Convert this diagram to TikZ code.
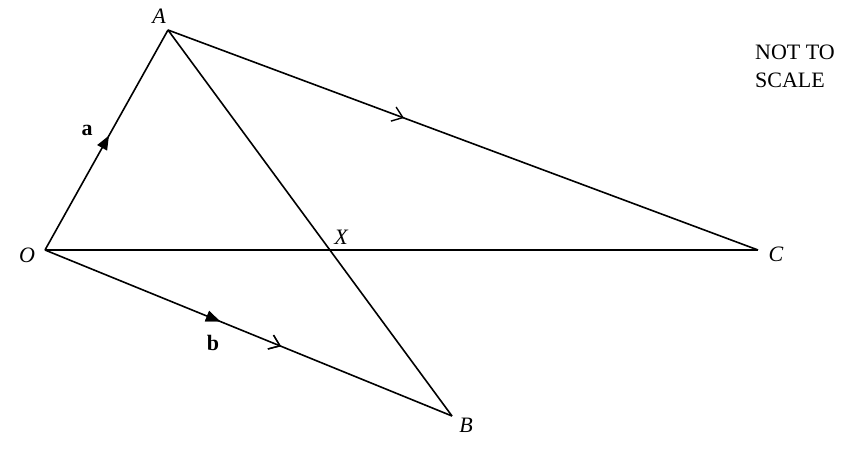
\documentclass[tikz,border=0pt]{standalone}
\usepackage{fontspec}
\setmainfont{Liberation Serif}
\usetikzlibrary{decorations.markings,arrows.meta,calc}
\tikzset{
  seg/.style={line width=1.6pt},
  lbl/.style={inner sep=0pt,font=\fontsize{22}{26}\selectfont},
  solidmark/.style={postaction={decorate},decoration={markings,mark=at position #1 with {\arrow{Triangle[length=14pt,width=11pt]}}}},
  openmark/.style={postaction={decorate},decoration={markings,mark=at position #1 with {\arrow{Straight Barb[length=10pt,width=15pt,line width=1.4pt]}}}},
}
\begin{document}
\begin{tikzpicture}[x=1pt,y=-1pt]
\useasboundingbox (0,0) rectangle (857,453);
\coordinate (O) at (45,250);
\coordinate (A) at (168,30);
\coordinate (C) at (758,250);
\coordinate (B) at (452,416);
\coordinate (X) at (330,250);
\draw[seg,solidmark=0.52] (O) -- (A);
\draw[seg,solidmark=0.43,openmark=0.58] (O) -- (B);
\draw[seg,openmark=0.40] (A) -- (C);
\draw[seg] (A) -- (B);
\draw[seg] (O) -- (C);
\node[lbl] (lO) at (27,255) {\itshape O};
\node[lbl] (lA) at (159,16) {\itshape A};
\node[lbl] (lX) at (341,237) {\itshape X};
\node[lbl] (lC) at (776,254) {\itshape C};
\node[lbl] (lB) at (466,425) {\itshape B};
\node[lbl] (la) at (87,130) {\bfseries a};
\node[lbl] (lb) at (213,343) {\bfseries b};
\node[lbl,anchor=west] (n1) at (755,52) {NOT TO};
\node[lbl,anchor=west] (n2) at (755,80) {SCALE};
\end{tikzpicture}
\end{document}
